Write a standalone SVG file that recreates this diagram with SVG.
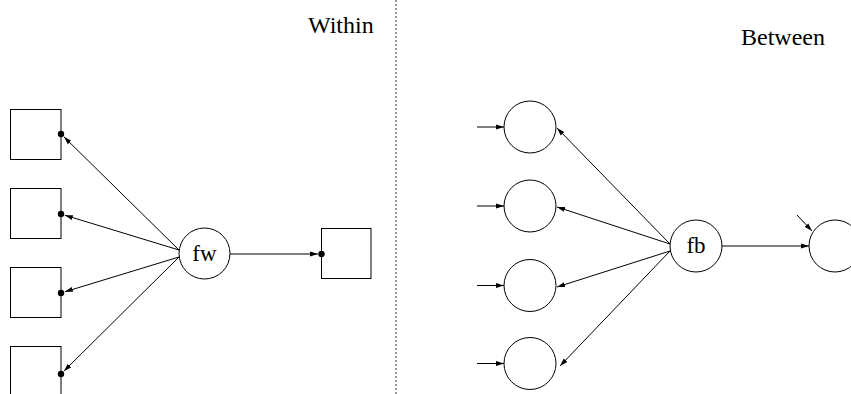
<svg xmlns="http://www.w3.org/2000/svg" width="851" height="394" viewBox="0 0 851 394">
<style>
.nd{fill:#fff;stroke:#000;stroke-width:1}
.lbl{font-family:"Liberation Serif","Times New Roman",serif;font-size:23px;fill:#000}
.title{font-family:"Liberation Serif","Times New Roman",serif;font-size:24px;fill:#000}
.ed{stroke:#000;stroke-width:1;fill:none;marker-end:url(#ah)}
.dot{fill:#000}
</style>
<defs>
<marker id="ah" viewBox="0 0 8 6" refX="8" refY="3" markerWidth="8" markerHeight="6" markerUnits="userSpaceOnUse" orient="auto">
<path d="M0,0.5 L8,3 L0,5.5 Z" fill="#000"/>
</marker>
</defs>
<rect width="851" height="394" fill="#fff"/>
<line x1="396" y1="0" x2="396" y2="394" stroke="#777" stroke-width="1.5" stroke-dasharray="2,2"/>
<text class="title" x="308" y="33">Within</text>
<text class="title" x="741" y="45">Between</text>

<g id="y1"><rect class="nd" x="10.5" y="109.5" width="50.5" height="50"/><circle class="dot" cx="61" cy="134" r="3.2"/></g>
<g id="y2"><rect class="nd" x="10.5" y="188.5" width="50.5" height="50"/><circle class="dot" cx="61" cy="214" r="3.2"/></g>
<g id="y3"><rect class="nd" x="10.5" y="267.5" width="50.5" height="50"/><circle class="dot" cx="61" cy="293" r="3.2"/></g>
<g id="y4"><rect class="nd" x="10.5" y="346.5" width="50.5" height="50"/><circle class="dot" cx="61" cy="374" r="3.2"/></g>
<g id="fw"><circle class="nd" cx="204.5" cy="253.5" r="25.5"/><text class="lbl" x="204.5" y="261" text-anchor="middle">fw</text></g>
<g id="z"><rect class="nd" x="321.5" y="228.5" width="49.5" height="50"/><circle class="dot" cx="321.5" cy="254" r="3.2"/></g>

<g id="b1"><circle class="nd" cx="530" cy="127" r="26"/></g>
<g id="b2"><circle class="nd" cx="530" cy="206" r="26"/></g>
<g id="b3"><circle class="nd" cx="530" cy="285.5" r="26"/></g>
<g id="b4"><circle class="nd" cx="530" cy="363.5" r="26"/></g>
<g id="fb"><circle class="nd" cx="696" cy="246" r="26"/><text class="lbl" x="696" y="253" text-anchor="middle">fb</text></g>
<g id="zb"><circle class="nd" cx="835" cy="246" r="26"/></g>

<g id="connectors">
<line class="ed" x1="179" y1="250" x2="63.9" y2="136.8"/>
<line class="ed" x1="179" y1="250" x2="64.8" y2="215.2"/>
<line class="ed" x1="179" y1="257" x2="64.8" y2="291.8"/>
<line class="ed" x1="179" y1="257" x2="63.8" y2="371.2"/>
<line class="ed" x1="230" y1="254" x2="318" y2="254"/>
<line class="ed" x1="670" y1="244" x2="557" y2="128"/>
<line class="ed" x1="670" y1="244" x2="557" y2="207"/>
<line class="ed" x1="670" y1="251" x2="557" y2="287"/>
<line class="ed" x1="670" y1="251" x2="560" y2="366"/>
<line class="ed" x1="477" y1="127" x2="504" y2="127"/>
<line class="ed" x1="477" y1="206" x2="504" y2="206"/>
<line class="ed" x1="477" y1="285.5" x2="504" y2="285.5"/>
<line class="ed" x1="477" y1="363.5" x2="504" y2="363.5"/>
<line class="ed" x1="722" y1="246" x2="809" y2="246"/>
<line class="ed" x1="797" y1="215" x2="812" y2="231"/>
</g>
</svg>
